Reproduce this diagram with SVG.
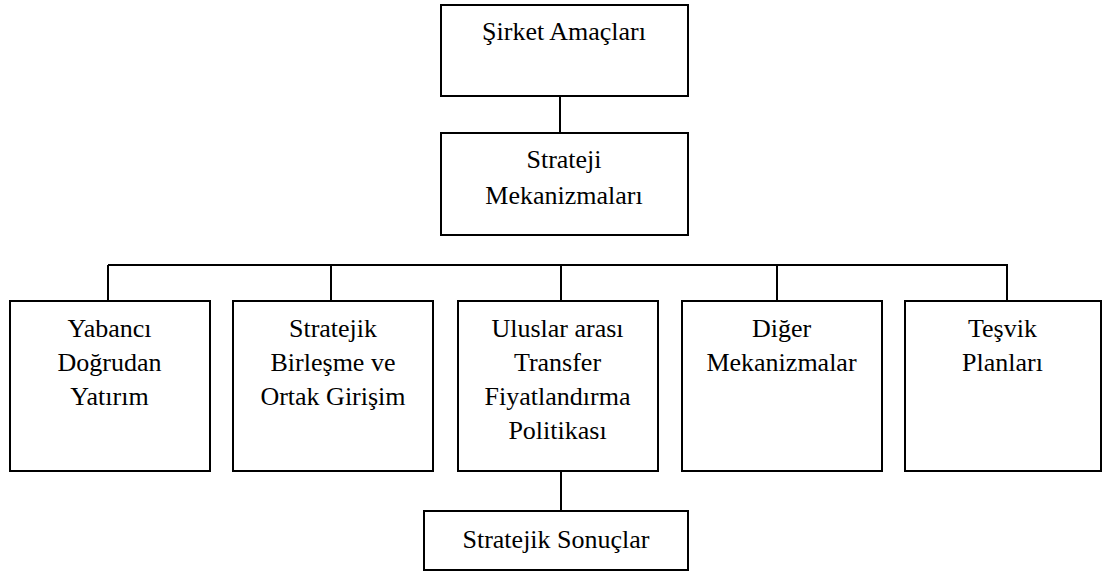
<svg xmlns="http://www.w3.org/2000/svg" width="1102" height="572" viewBox="0 0 1102 572">
<defs>
<style>
.box{fill:#fff;stroke:#000;stroke-width:2}
.ln{stroke:#000;stroke-width:2;fill:none}
</style>
</defs>
<rect width="1102" height="572" fill="#fff"/>
<g id="connectors">
<line class="ln" x1="560" y1="96" x2="560" y2="132"/>
<line class="ln" x1="108" y1="265" x2="1008" y2="265"/>
<line class="ln" x1="108" y1="265" x2="108" y2="300"/>
<line class="ln" x1="331" y1="265" x2="331" y2="300"/>
<line class="ln" x1="561" y1="265" x2="561" y2="300"/>
<line class="ln" x1="777" y1="265" x2="777" y2="300"/>
<line class="ln" x1="1007" y1="265" x2="1007" y2="300"/>
<line class="ln" x1="561" y1="471" x2="561" y2="511"/>
</g>
<g font-family="Liberation Serif, DejaVu Serif, serif" font-size="26" text-anchor="middle" fill="#000">
<g id="n-sirket">
<rect class="box" x="441" y="5" width="247" height="91"/>
<text x="564" y="40">Şirket Amaçları</text>
</g>
<g id="n-strateji">
<rect class="box" x="441" y="133" width="247" height="102"/>
<text x="564" y="168">Strateji</text>
<text x="564" y="204">Mekanizmaları</text>
</g>
<g id="n-yabanci">
<rect class="box" x="10" y="301" width="200" height="170"/>
<text x="109.5" y="337">Yabancı</text>
<text x="109.5" y="371">Doğrudan</text>
<text x="109.5" y="405">Yatırım</text>
</g>
<g id="n-birlesme">
<rect class="box" x="233" y="301" width="200" height="170"/>
<text x="333" y="337">Stratejik</text>
<text x="333" y="371">Birleşme ve</text>
<text x="333" y="405">Ortak Girişim</text>
</g>
<g id="n-transfer">
<rect class="box" x="458" y="301" width="200" height="170"/>
<text x="557.5" y="337">Uluslar arası</text>
<text x="557.5" y="371">Transfer</text>
<text x="557.5" y="405">Fiyatlandırma</text>
<text x="557.5" y="439">Politikası</text>
</g>
<g id="n-diger">
<rect class="box" x="682" y="301" width="200" height="170"/>
<text x="781.5" y="337">Diğer</text>
<text x="781.5" y="371">Mekanizmalar</text>
</g>
<g id="n-tesvik">
<rect class="box" x="905" y="301" width="196" height="170"/>
<text x="1002.5" y="337">Teşvik</text>
<text x="1002.5" y="371">Planları</text>
</g>
<g id="n-sonuclar">
<rect class="box" x="424" y="511" width="264" height="59"/>
<text x="556" y="548">Stratejik Sonuçlar</text>
</g>
</g>
</svg>
